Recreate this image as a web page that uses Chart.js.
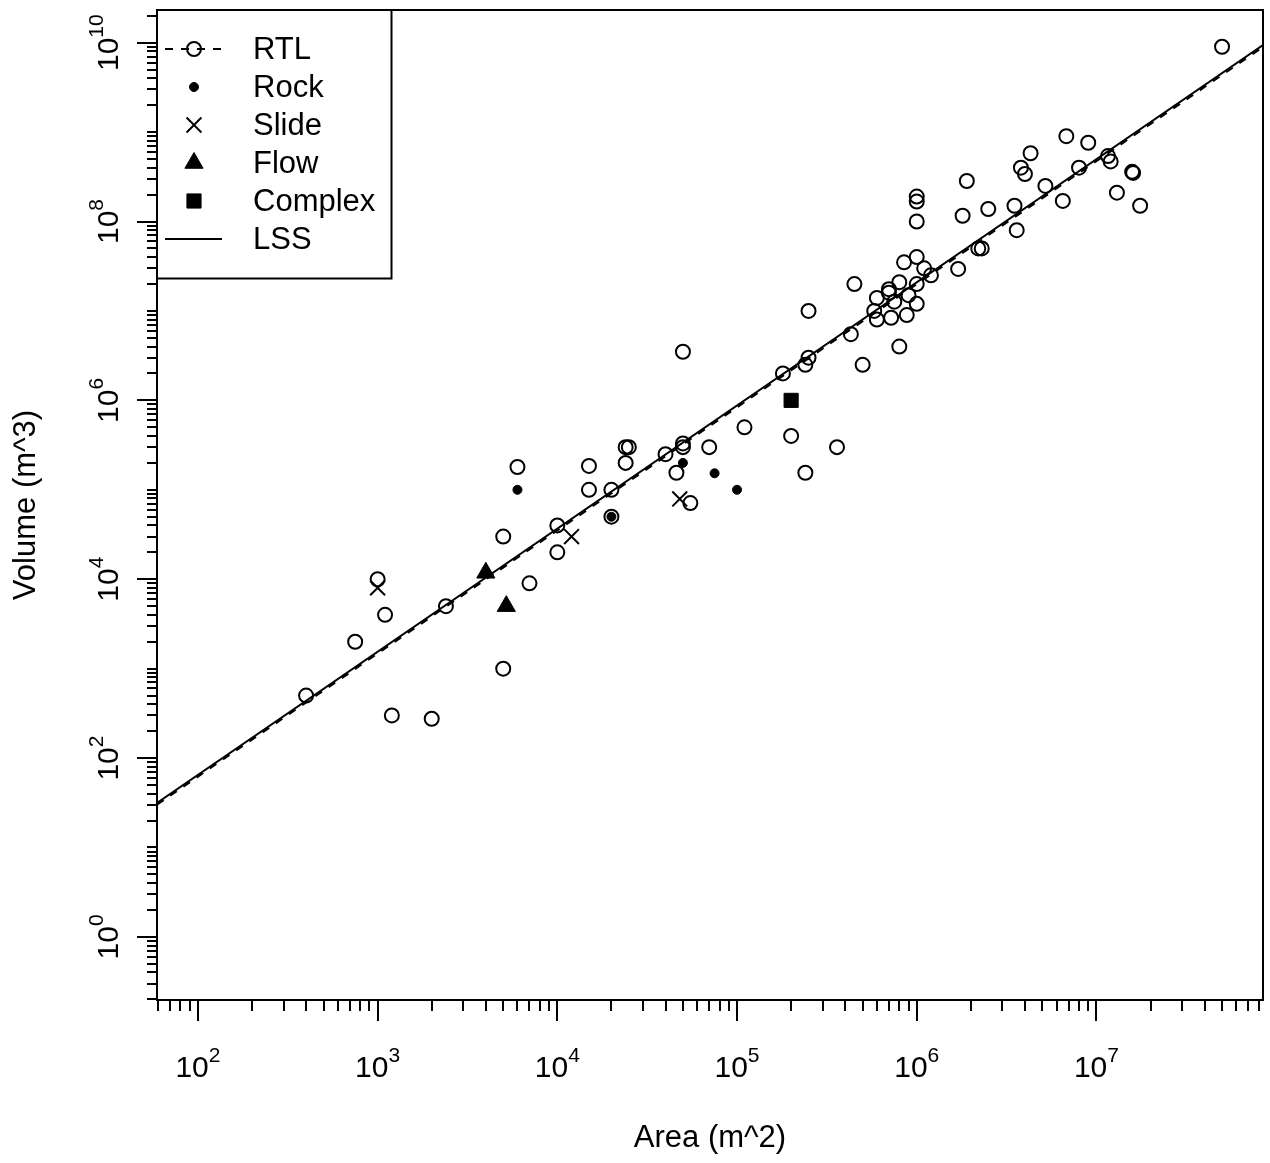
<!DOCTYPE html>
<html>
<head>
<meta charset="utf-8">
<title>Volume vs Area</title>
<script src="https://cdn.jsdelivr.net/npm/chart.js@4.4.0/dist/chart.umd.min.js"></script>
<style>
  body { margin: 0; background: #fff; }
  canvas { display: block; }
</style>
</head>
<body>
<canvas id="myChart" width="1270" height="1163"></canvas>
<script>
// values: area (m^2) and volume (m^3)
var rtlArea = [1.1e5, 2.4e4, 2.5e4, 5e4, 5e4, 7e4, 4e4, 6e3, 1.5e4, 2.4e4,
    4.6e4, 1.5e4, 2e4, 5.5e4, 2e4, 1e4, 5e3, 1e4, 7e3, 1e3,
    1.1e3, 2.4e3, 750, 5e3, 400, 1.2e3, 2e3, 5e4, 4.3e6, 1.16e7,
    1.2e7, 3.8e6, 4e6, 8e6, 1.58e7, 1.6e7, 1.9e6, 5.2e6, 1.3e7, 1e6,
    1e6, 6.5e6, 1.75e7, 2.5e6, 1.8e6, 3.5e6, 1e6, 3.6e6, 2.2e6, 2.3e6,
    1e6, 8.5e5, 1.1e6, 1.7e6, 1.2e6, 4.5e5, 8e5, 1e6, 7e5, 7e5,
    6e5, 9e5, 7.5e5, 1e6, 5.8e5, 2.5e5, 8.8e5, 7.2e5, 6e5, 4.3e5,
    8e5, 2.5e5, 2.4e5, 1.8e5, 5e5, 2e5, 3.6e5, 2.4e5, 6.8e6, 9e6, 5e7];
var rtlVolume = [5e5, 3e5, 3e5, 3.3e5, 3e5, 3e5, 2.5e5, 1.8e5, 1.85e5, 2e5,
    1.55e5, 1e5, 1e5, 7.1e4, 5e4, 4e4, 3e4, 2e4, 9e3, 1e4,
    4e3, 5e3, 2e3, 1e3, 500, 300, 275, 3.5e6, 5.8e8, 5.4e8,
    4.7e8, 4e8, 3.4e8, 4e8, 3.6e8, 3.5e8, 2.84e8, 2.5e8, 2.1e8, 1.9e8,
    1.67e8, 1.7e8, 1.5e8, 1.38e8, 1.16e8, 1.5e8, 1e8, 8e7, 5e7, 5e7,
    4e7, 3.5e7, 3e7, 2.95e7, 2.5e7, 2e7, 2.1e7, 2e7, 1.75e7, 1.6e7,
    1.4e7, 1.5e7, 1.27e7, 1.2e7, 1e7, 1e7, 9e6, 8.4e6, 8e6, 5.5e6,
    4e6, 3e6, 2.5e6, 2e6, 2.5e6, 4e5, 3e5, 1.55e5, 9e8, 7.6e8, 9e9];

var rockArea = [6e3, 5e4, 7.5e4, 1e5, 2e4];
var rockVolume = [1e5, 2e5, 1.53e5, 1e5, 5e4];

var slideArea = [1e3, 1.2e4, 4.8e4];
var slideVolume = [8e3, 3e4, 7.9e4];

var flowArea = [4e3, 5.2e3];
var flowVolume = [1.18e4, 5e3];

var complexArea = [2e5];
var complexVolume = [1e6];

// fitted lines, given by their two end points
var lssArea = [59.2, 8.45e7];
var lssVolume = [31.5, 9.42e9];
var rtlLineArea = [59.2, 8.45e7];
var rtlLineVolume = [30.1, 8.95e9];

// axis limits and labelled ticks
var xMin = 59.2, xMax = 8.45e7;
var yMin = 0.197, yMax = 2.32e10;
var xLabelExps = [2, 3, 4, 5, 6, 7];
var yLabelExps = [0, 2, 4, 6, 8, 10];

var FONT = '"Liberation Sans", Arial, Helvetica, sans-serif';

function toPoints(xs, ys) {
    var pts = [];
    for (let i = 0; i < xs.length; i++) {
        pts.push({x: xs[i], y: ys[i]});
    }
    return pts;
}

// every k*10^n inside the range
function minorTicks(lo, hi) {
    var out = [];
    for (let e = Math.floor(Math.log10(lo)); e <= Math.ceil(Math.log10(hi)); e++) {
        for (let k = 1; k <= 9; k++) {
            var v = k * Math.pow(10, e);
            if (v >= lo && v <= hi) out.push(v);
        }
    }
    return out;
}

// "10" with a raised exponent, centred on 0
function drawPower(ctx, exp) {
    ctx.font = '30px ' + FONT;
    var base = '10';
    var wb = ctx.measureText(base).width;
    ctx.font = '21px ' + FONT;
    var ws = ctx.measureText(String(exp)).width;
    var start = -(wb + ws) / 2;
    ctx.font = '30px ' + FONT;
    ctx.fillText(base, start, 0);
    ctx.font = '21px ' + FONT;
    ctx.fillText(String(exp), start + wb, -15);
}

var axesPlugin = {
    id: 'rAxes',
    afterDraw: function(chart) {
        var ctx = chart.ctx;
        var area = chart.chartArea;
        var xs = chart.scales.x;
        var ys = chart.scales.y;
        ctx.save();
        ctx.strokeStyle = '#000';
        ctx.fillStyle = '#000';
        ctx.lineWidth = 2;
        ctx.setLineDash([]);

        // box
        ctx.strokeRect(area.left, area.top, area.right - area.left, area.bottom - area.top);

        // x ticks
        minorTicks(xMin, xMax).forEach(function(v) {
            var major = Math.abs(Math.log10(v) % 1) < 1e-9;
            var px = Math.round(xs.getPixelForValue(v));
            ctx.beginPath();
            ctx.moveTo(px, area.bottom);
            ctx.lineTo(px, area.bottom + (major ? 21 : 11));
            ctx.stroke();
        });
        // y ticks: long ones only on even powers
        minorTicks(yMin, yMax).forEach(function(v) {
            var lg = Math.log10(v);
            var major = Math.abs(lg - Math.round(lg)) < 1e-9 && Math.round(lg) % 2 === 0;
            var py = Math.round(ys.getPixelForValue(v));
            ctx.beginPath();
            ctx.moveTo(area.left, py);
            ctx.lineTo(area.left - (major ? 20 : 10), py);
            ctx.stroke();
        });

        // tick labels
        ctx.textAlign = 'left';
        ctx.textBaseline = 'alphabetic';
        xLabelExps.forEach(function(e) {
            ctx.save();
            ctx.translate(xs.getPixelForValue(Math.pow(10, e)), area.bottom + 77);
            drawPower(ctx, e);
            ctx.restore();
        });
        yLabelExps.forEach(function(e) {
            ctx.save();
            ctx.translate(area.left - 39, ys.getPixelForValue(Math.pow(10, e)));
            ctx.rotate(-Math.PI / 2);
            drawPower(ctx, e);
            ctx.restore();
        });

        // axis titles
        ctx.font = '31px ' + FONT;
        ctx.textAlign = 'center';
        ctx.fillText('Area (m^2)', (area.left + area.right) / 2, area.bottom + 147);
        ctx.save();
        ctx.translate(35, (area.top + area.bottom) / 2);
        ctx.rotate(-Math.PI / 2);
        ctx.fillText('Volume (m^3)', 0, 0);
        ctx.restore();

        // legend
        var lx = area.left, ly = area.top;
        ctx.strokeRect(lx, ly, 234.5, 268.5);
        var rows = [
            {text: 'RTL', style: 'circle', r: 7, bw: 2, fill: 'rgba(0,0,0,0)', line: [8, 8]},
            {text: 'Rock', style: 'circle', r: 4.5, bw: 1, fill: '#000'},
            {text: 'Slide', style: 'crossRot', r: 10.5, bw: 2, fill: '#000'},
            {text: 'Flow', style: 'triangle', r: 10.5, bw: 1, fill: '#000'},
            {text: 'Complex', style: 'rect', r: 10, bw: 1, fill: '#000'},
            {text: 'LSS', style: null, line: []}
        ];
        var symX = lx + 37;
        ctx.font = '31px ' + FONT;
        ctx.textAlign = 'left';
        ctx.textBaseline = 'middle';
        rows.forEach(function(row, i) {
            var cy = ly + 39 + i * 38;
            if (row.line) {
                ctx.lineWidth = 2;
                ctx.setLineDash(row.line);
                ctx.beginPath();
                ctx.moveTo(lx + 8, cy);
                ctx.lineTo(lx + 65, cy);
                ctx.stroke();
                ctx.setLineDash([]);
            }
            if (row.style) {
                ctx.lineWidth = row.bw;
                ctx.fillStyle = row.fill;
                Chart.helpers.drawPoint(ctx, {pointStyle: row.style, radius: row.r, rotation: 0, borderWidth: row.bw}, symX, cy);
                ctx.fillStyle = '#000';
            }
            ctx.fillText(row.text, lx + 96, cy + 1);
        });
        ctx.restore();
    }
};

var ctx = document.getElementById('myChart').getContext('2d');
var myChart = new Chart(ctx, {
    type: 'scatter',
    data: {
        datasets: [
            {
                label: 'LSS',
                data: toPoints(lssArea, lssVolume),
                showLine: true,
                borderColor: '#000',
                borderWidth: 2,
                pointRadius: 0,
                order: 1
            },
            {
                label: 'RTL line',
                data: toPoints(rtlLineArea, rtlLineVolume),
                showLine: true,
                borderColor: '#000',
                borderWidth: 2,
                borderDash: [8, 8],
                pointRadius: 0,
                order: 2
            },
            {
                label: 'RTL',
                data: toPoints(rtlArea, rtlVolume),
                pointStyle: 'circle',
                pointRadius: 7,
                borderWidth: 2,
                borderColor: '#000',
                backgroundColor: 'rgba(0,0,0,0)',
                order: 3
            },
            {
                label: 'Rock',
                data: toPoints(rockArea, rockVolume),
                pointStyle: 'circle',
                pointRadius: 4.5,
                borderWidth: 1,
                borderColor: '#000',
                backgroundColor: '#000',
                order: 0
            },
            {
                label: 'Slide',
                data: toPoints(slideArea, slideVolume),
                pointStyle: 'crossRot',
                pointRadius: 10.5,
                borderWidth: 2,
                borderColor: '#000',
                backgroundColor: '#000',
                order: 0
            },
            {
                label: 'Flow',
                data: toPoints(flowArea, flowVolume),
                pointStyle: 'triangle',
                pointRadius: 10.5,
                borderWidth: 1,
                borderColor: '#000',
                backgroundColor: '#000',
                order: 0
            },
            {
                label: 'Complex',
                data: toPoints(complexArea, complexVolume),
                pointStyle: 'rect',
                pointRadius: 10,
                borderWidth: 1,
                borderColor: '#000',
                backgroundColor: '#000',
                order: 0
            }
        ]
    },
    options: {
        responsive: false,
        animation: false,
        events: [],
        layout: {
            autoPadding: false,
            padding: {left: 157, top: 10, right: 7, bottom: 163}
        },
        scales: {
            x: {type: 'logarithmic', min: xMin, max: xMax, bounds: 'data', display: false},
            y: {type: 'logarithmic', min: yMin, max: yMax, bounds: 'data', display: false}
        },
        plugins: {
            legend: {display: false},
            tooltip: {enabled: false}
        }
    },
    plugins: [axesPlugin]
});
</script>
</body>
</html>
